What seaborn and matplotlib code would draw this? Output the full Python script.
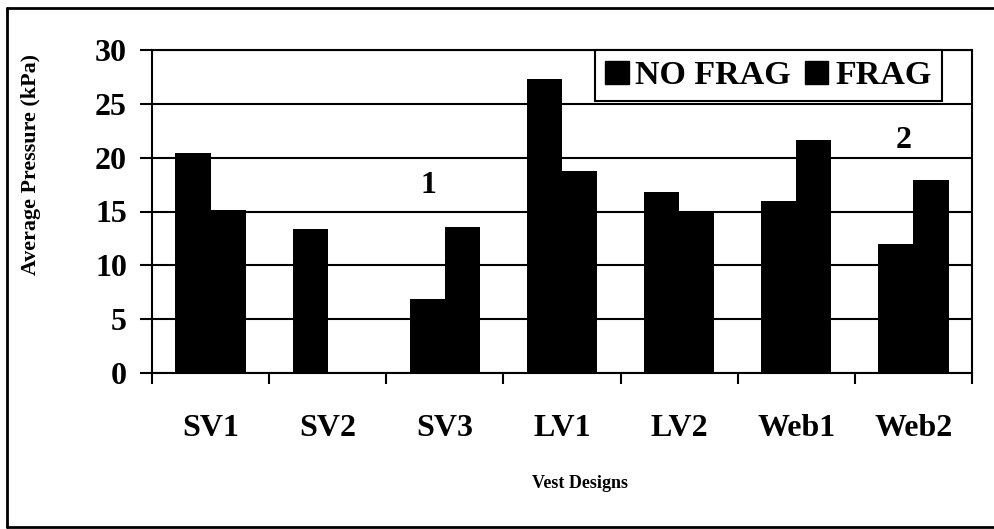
import numpy as np
import pandas as pd
import seaborn as sns
import matplotlib
matplotlib.use("Agg")
import matplotlib.pyplot as plt
from matplotlib.patches import Patch
from matplotlib.lines import Line2D

designs = ["SV1", "SV2", "SV3", "LV1", "LV2", "Web1", "Web2"]
no_frag = [20.4, 13.4, 6.9, 27.3, 16.8, 16.0, 12.0]
frag = [15.1, np.nan, 13.6, 18.8, 15.0, 21.6, 17.9]
series = ["NO FRAG", "FRAG"]
yticks = [0, 5, 10, 15, 20, 25, 30]

df = pd.DataFrame({
    "design": designs * 2,
    "series": [series[0]] * len(designs) + [series[1]] * len(designs),
    "value": no_frag + frag,
})

sns.set_theme(style="white")
plt.rcParams["font.family"] = ["Liberation Serif", "DejaVu Serif"]
plt.rcParams["font.weight"] = "bold"
for k in ["text.color", "axes.labelcolor", "xtick.color", "ytick.color", "axes.edgecolor"]:
    plt.rcParams[k] = "black"

fig = plt.figure(figsize=(9.94, 5.29), dpi=100)
ax = fig.add_axes([152/994, 1 - 373/529, 820/994, 323/529])

sns.barplot(data=df, x="design", y="value", hue="series", order=designs,
            hue_order=series, palette=["black", "black"], width=0.6,
            saturation=1, edgecolor="black", linewidth=0, legend=False,
            errorbar=None, ax=ax, zorder=3)

ax.set_ylim(0, 30)
ax.set_xlim(-0.5, len(designs) - 0.5)
ax.set_yticks(yticks)
ax.set_yticklabels([str(v) for v in yticks], fontsize=23, fontweight="bold", color="black")
ax.yaxis.grid(True, color="black", linewidth=1.5, zorder=0)
ax.set_axisbelow(True)
ax.tick_params(axis="y", direction="out", length=9, width=1.5, pad=9,
               color="black", labelcolor="black", left=True)
ax.set_xticks(range(len(designs)))
ax.set_xticklabels(designs, fontsize=23, fontweight="bold", color="black")
ax.tick_params(axis="x", which="major", length=0, pad=29.5, labelcolor="black")
ax.set_xticks(np.arange(-0.5, len(designs), 1.0), minor=True)
ax.tick_params(axis="x", which="minor", direction="out", length=8, width=1.5,
               color="black", bottom=True)
for s in ax.spines.values():
    s.set_color("black")
    s.set_linewidth(1.5)
    s.set_visible(True)

ax.set_xlabel("Vest Designs", fontsize=13, fontweight="bold", color="black")
ax.xaxis.set_label_coords(0.522, -0.316)
ax.set_ylabel("Average Pressure (kPa)", fontsize=15.8, fontweight="bold", color="black")
ax.yaxis.set_label_coords(-0.135, 0.644)

ax.text(1.86, 17.4, "1", fontsize=23, fontweight="bold", ha="center", va="center", color="black")
ax.text(5.92, 21.6, "2", fontsize=23, fontweight="bold", ha="center", va="center", color="black")

handles = [Patch(facecolor="black", edgecolor="black", label=s) for s in series]
leg = ax.legend(handles=handles, loc="upper right", bbox_to_anchor=(0.963, 1.0),
                borderaxespad=0, ncol=2, frameon=True, fancybox=False,
                prop={"family": "Liberation Serif", "weight": "bold", "size": 24.5},
                handlelength=0.7, handleheight=0.65, handletextpad=0.2,
                columnspacing=0.4, borderpad=0.3, labelcolor="black")
leg.get_frame().set_edgecolor("black")
leg.get_frame().set_linewidth(1.5)
leg.get_frame().set_alpha(1)

# outer frame
lw = 2
fig.add_artist(Line2D([7/994, 7/994], [1 - 8/529, 1 - 527/529], transform=fig.transFigure, color="black", lw=lw))
fig.add_artist(Line2D([7/994, 1.0], [1 - 8/529, 1 - 8/529], transform=fig.transFigure, color="black", lw=lw))
fig.add_artist(Line2D([7/994, 1.0], [1 - 527/529, 1 - 527/529], transform=fig.transFigure, color="black", lw=lw))

fig.savefig("out.png", dpi=100, facecolor="white")
